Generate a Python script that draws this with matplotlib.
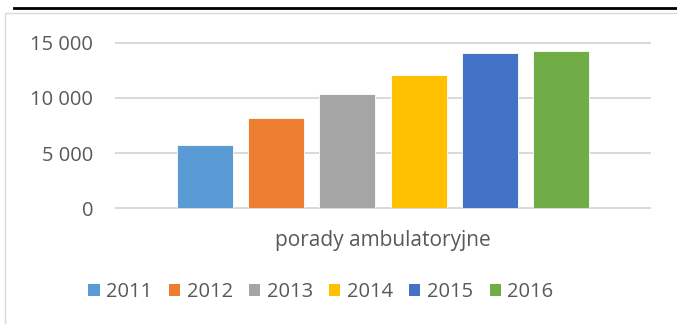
import numpy as np
import matplotlib.pyplot as plt
from matplotlib.lines import Line2D
from matplotlib.patches import Patch
from matplotlib.ticker import FuncFormatter

plt.rcParams["font.family"] = ["Open Sans", "DejaVu Sans"]

years = ["2011", "2012", "2013", "2014", "2015", "2016"]
porady = [5700, 8150, 10350, 12100, 14070, 14220]
colors = ["#5B9BD5", "#ED7D31", "#A5A5A5", "#FFC000", "#4472C4", "#70AD47"]
category = "porady ambulatoryjne"
yticks = [0, 5000, 10000, 15000]

W, H = 677, 324
fig = plt.figure(figsize=(W / 100, H / 100), dpi=100)

# axes placed in pixel terms: gridlines span x 116..650, y 42.7..208.3
ax = fig.add_axes([116 / W, (H - 208.3) / H, (650 - 116) / W, (208.3 - 42.7) / H])

x = np.arange(len(years))
ax.bar(x, porady, width=0.787, color=colors, edgecolor="#ffffff", linewidth=0.6, zorder=3)

ax.set_xlim(-1.25, 6.25)
ax.set_ylim(0, 15000)
ax.set_yticks(yticks)
ax.yaxis.set_major_formatter(FuncFormatter(lambda v, p: f"{int(v):,}".replace(",", " ")))
ax.set_xticks([])
ax.tick_params(axis="y", length=0, pad=16.5, labelsize=14.5, labelcolor="#595959")
ax.grid(axis="y", color="#D9D9D9", linewidth=1.4, zorder=0)
for gl in ax.get_ygridlines():
    gl.set_clip_on(False)
for s in ax.spines.values():
    s.set_visible(False)

ax.text(2.5, -0.195, category, transform=ax.get_xaxis_transform(),
        ha="center", va="center", fontsize=15, color="#595959")

handles = [Patch(facecolor=c, edgecolor="none") for c in colors]
fig.legend(handles, years, loc="center", bbox_to_anchor=(321 / W, (H - 292) / H),
           ncol=6, frameon=False, fontsize=14.5, labelcolor="#595959",
           handlelength=0.55, handleheight=0.55, handletextpad=0.34, columnspacing=0.8)

# chart frame and the dark rule above it
fig.add_artist(Line2D([5 / W, 5 / W, 1], [0, (H - 13) / H, (H - 13) / H],
                      color="#D9D9D9", linewidth=1.0))
fig.add_artist(Line2D([14 / W, 1], [(H - 8) / H, (H - 8) / H],
                      color="black", linewidth=2.0))

fig.savefig("out.png", dpi=100)
